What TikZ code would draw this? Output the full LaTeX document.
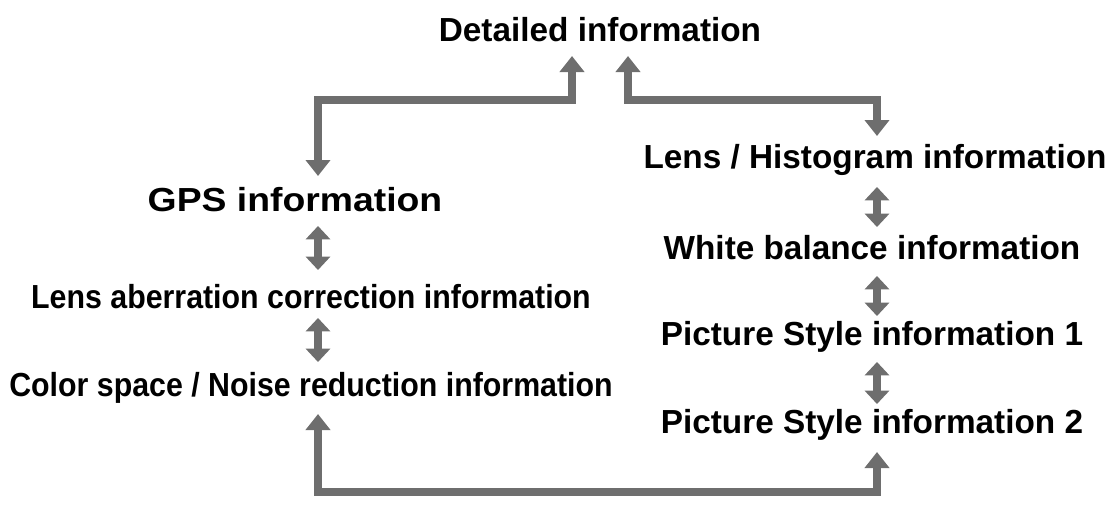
\documentclass[tikz,border=0pt]{standalone}
\usepackage{fontspec}
\setmainfont{Liberation Sans}
\usetikzlibrary{arrows.meta}
\definecolor{arr}{HTML}{6E6E6E}
\tikzset{lbl/.style={font=\bfseries\fontsize{25}{28}\selectfont, inner sep=0pt},
  con/.style={draw=arr, line width=6pt, -{Triangle[width=18pt,length=12pt]}},
  dbl/.style={draw=arr, line width=6pt, {Triangle[width=18pt,length=10pt]}-{Triangle[width=18pt,length=10pt]}}}
\begin{document}
\begin{tikzpicture}[x=0.75pt,y=-0.75pt]
\useasboundingbox (0,0) rectangle (1118,515);
\node[lbl] (det) at (600,30) {Detailed information};
\node[lbl] (lh) at (875,160) {Lens / Histogram information};
\node[lbl,xscale=1.12,transform shape] (gps) at (295,200) {GPS information};
\node[lbl] (wb) at (872,248) {White balance information};
\node[lbl,xscale=0.91,transform shape] (la) at (311,297) {Lens aberration correction information};
\node[lbl,xscale=0.91,transform shape] (cs) at (311,388) {Color space / Noise reduction information};
\node[lbl] (ps1) at (872,337) {Picture Style information 1};
\node[lbl] (ps2) at (872,425) {Picture Style information 2};
\coordinate (dl) at (572,56);
\coordinate (dr) at (628,56);
\draw[con] (318,100) -- (572,100) -- (dl);
\draw[con] (572,100) -- (318,100) -- (318,176);
\draw[con] (877,100) -- (628,100) -- (dr);
\draw[con] (628,100) -- (877,100) -- (877,136);
\draw[con] (318,492) -- (877,492) -- (877,452);
\draw[con] (877,492) -- (318,492) -- (318,414);
\draw[dbl] (318,226) -- (318,270);
\draw[dbl] (318,318) -- (318,362);
\draw[dbl] (877,187) -- (877,227);
\draw[dbl] (877,276) -- (877,316);
\draw[dbl] (877,362) -- (877,404);
\end{tikzpicture}
\end{document}
